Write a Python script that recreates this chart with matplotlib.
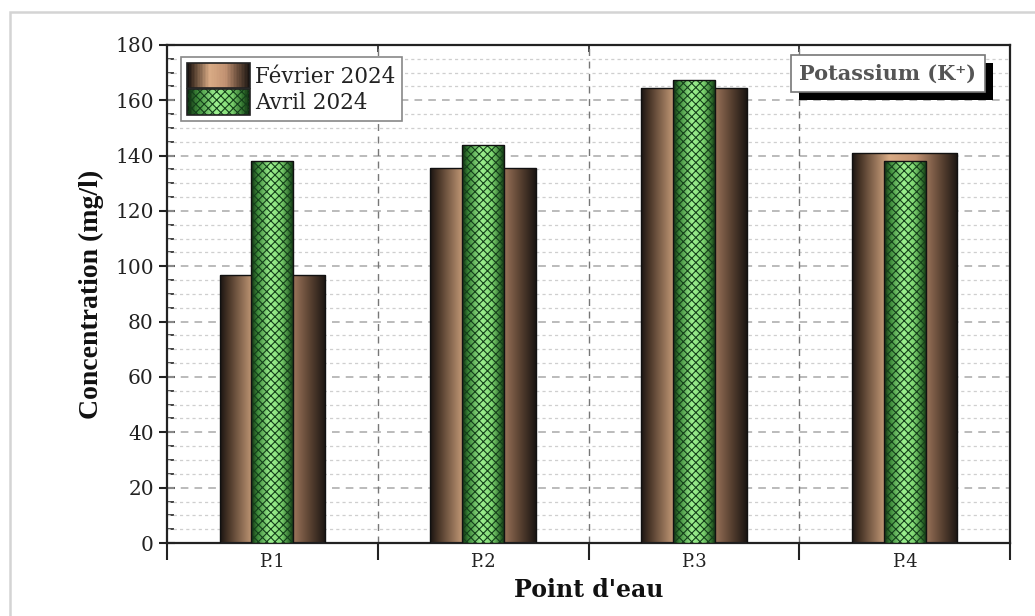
import numpy as np
import matplotlib
matplotlib.use('Agg')
from matplotlib import pyplot as plt
from matplotlib.patches import Rectangle
from matplotlib.legend_handler import HandlerBase
from matplotlib.colors import to_rgb
import matplotlib.patheffects as pe

# donnees
points = ['P.1', 'P.2', 'P.3', 'P.4']
fevrier = [97, 135.5, 164.5, 141]
avril = [138, 144, 167.5, 138]
y_ticks = [0, 20, 40, 60, 80, 100, 120, 140, 160, 180]

SERIF = ['Liberation Serif', 'DejaVu Serif']
WIDE = ['DejaVu Serif']

brown_t = [0, 0.08, 0.35, 0.6, 0.85, 1]
brown_c = ['#1b1512', '#4a3628', '#d9ab85', '#c39373', '#5a4232', '#1b1512']
green_t = [0, 0.15, 0.45, 0.7, 0.9, 1]
green_c = ['#0f2a10', '#3d8a3a', '#9df08f', '#7fd672', '#2f6e2c', '#0f2a10']


def make_gradient(ts, cs, n=200):
    rgb = np.array([to_rgb(c) for c in cs])
    t = np.linspace(0, 1, n)
    return np.stack([np.interp(t, ts, rgb[:, k]) for k in range(3)], axis=1)


grad_brown = make_gradient(brown_t, brown_c)
grad_green = make_gradient(green_t, green_c)


def gradient_bars(ax, x, heights, width, grad, z):
    bars = ax.bar(x, heights, width=width, facecolor='none', edgecolor='none', zorder=z)
    for rect in bars:
        x0, w, h = rect.get_x(), rect.get_width(), rect.get_height()
        im = ax.imshow(grad[np.newaxis, :, :], extent=[x0, x0 + w, 0, h],
                       aspect='auto', zorder=z, interpolation='bilinear')
        im.set_clip_path(rect)
    return bars


class GradientHandler(HandlerBase):
    def __init__(self, grad, hatch=None):
        super().__init__()
        self.grad = grad
        self.hatch = hatch

    def create_artists(self, legend, orig_handle, xdescent, ydescent, width, height, fontsize, trans):
        arts = []
        n = 40
        x0, y0 = -xdescent, -ydescent
        for i in range(n):
            c = self.grad[int(i * (len(self.grad) - 1) / (n - 1))]
            r = Rectangle((x0 + i * width / n, y0), width / n * 1.05, height,
                          facecolor=c, edgecolor='none', transform=trans)
            arts.append(r)
        if self.hatch:
            arts.append(Rectangle((x0, y0), width, height, facecolor='none',
                                  edgecolor='#14401a', hatch=self.hatch, linewidth=0,
                                  transform=trans))
        arts.append(Rectangle((x0, y0), width, height, facecolor='none',
                              edgecolor='#222222', linewidth=1.2, transform=trans))
        return arts


plt.rcParams['hatch.linewidth'] = 0.8

fig = plt.figure(figsize=(10.35, 6.16), dpi=100)
ax = fig.add_axes([0.1614, 0.1185, 0.8144, 0.8085])

# cadre de la figure
fig.patches.append(Rectangle((10 / 1035, -0.05), 1.1, 1 - 12 / 616 + 0.05,
                             transform=fig.transFigure, facecolor='none',
                             edgecolor='#d4d4d4', linewidth=1.8, zorder=0))

x = np.arange(1, len(points) + 1)
gradient_bars(ax, x, fevrier, 0.5, grad_brown, 2)
ax.bar(x, fevrier, width=0.5, facecolor='none', edgecolor='#111111', linewidth=1.0, zorder=3)
gradient_bars(ax, x, avril, 0.2, grad_green, 4)
ax.bar(x, avril, width=0.2, facecolor='none', edgecolor='#14401a', hatch='xxxx', linewidth=0, zorder=5)
ax.bar(x, avril, width=0.2, facecolor='none', edgecolor='#111111', linewidth=1.0, zorder=6)

ax.set_xlim(0.5, 4.5)
ax.set_ylim(0, 180)

# grille
ax.set_axisbelow(True)
for yv in y_ticks[1:]:
    ax.axhline(yv, color='#a8a8a8', linestyle=(0, (5, 4)), linewidth=1.1, zorder=1)
for yv in np.arange(5, 180, 5):
    if yv % 20 != 0:
        ax.axhline(yv, color='#cfcfcf', linestyle=(0, (2.5, 2.5)), linewidth=0.9, zorder=1)
for xv in [1.5, 2.5, 3.5]:
    ax.axvline(xv, color='#777777', linestyle=(0, (5, 4)), linewidth=1.0, zorder=1)

# axes et graduations
ax.set_yticks(y_ticks)
ax.set_yticks(np.arange(0, 181, 5), minor=True)
ax.set_xticks([0.5, 1.5, 2.5, 3.5, 4.5])
ax.set_xticklabels([])
ax.set_xticks(x, minor=True)
ax.set_xticklabels(points, minor=True, fontfamily=WIDE, fontsize=13, color='#222222')
ax.tick_params(axis='x', which='major', direction='out', length=12, width=1.5, color='#222222')
ax.tick_params(axis='x', which='minor', length=0, pad=7)
ax.tick_params(axis='y', which='major', direction='inout', length=11, width=1.5,
               labelsize=14.5, labelcolor='#222222', color='#222222', pad=4)
ax.tick_params(axis='y', which='minor', direction='in', length=5, width=1.2, color='#222222')
for lab in ax.get_yticklabels():
    lab.set_fontfamily(WIDE)

top = ax.secondary_xaxis('top')
top.set_xticks([1.5, 2.5, 3.5])
top.set_xticklabels([])
top.tick_params(direction='in', length=5, width=1.2, color='#222222')
top.spines['top'].set_visible(False)

for s in ['left', 'bottom', 'right', 'top']:
    ax.spines[s].set_linewidth(1.6)
    ax.spines[s].set_color('#222222')

ax.set_ylabel('Concentration (mg/l)', fontfamily=SERIF, fontsize=20, fontweight='bold',
              color='#111111', labelpad=8)
ax.set_xlabel("Point d'eau", fontfamily=WIDE, fontsize=17, fontweight='bold',
              color='#111111', labelpad=5)

# legende
h1 = Rectangle((0, 0), 1, 1)
h2 = Rectangle((0, 0), 1, 1)
leg = ax.legend([h1, h2], ['Février 2024', 'Avril 2024'],
                handler_map={h1: GradientHandler(grad_brown), h2: GradientHandler(grad_green, 'xxxx')},
                loc='upper left', bbox_to_anchor=(0.012, 0.985), prop={'family': WIDE, 'size': 15.5},
                handlelength=2.9, handleheight=1.45, handletextpad=0.25, labelspacing=0.05,
                borderpad=0.28, borderaxespad=0.2, fancybox=False, framealpha=1,
                edgecolor='#888888')
leg.get_frame().set_linewidth(1.2)
for t in leg.get_texts():
    t.set_color('#222222')

# titre dans un cadre
txt = ax.text(0.96, 0.943, 'Potassium (K\u207a)', transform=ax.transAxes, ha='right', va='center',
              fontfamily=WIDE, fontsize=15, fontweight='bold', color='#555555', zorder=10,
              bbox=dict(boxstyle='square,pad=0.4', facecolor='white', edgecolor='#777777',
                        linewidth=1.2))
txt.get_bbox_patch().set_path_effects([
    pe.SimplePatchShadow(offset=(6, -6), shadow_rgbFace='black', alpha=1.0),
    pe.Normal()])

fig.savefig('out.png', dpi=100)
